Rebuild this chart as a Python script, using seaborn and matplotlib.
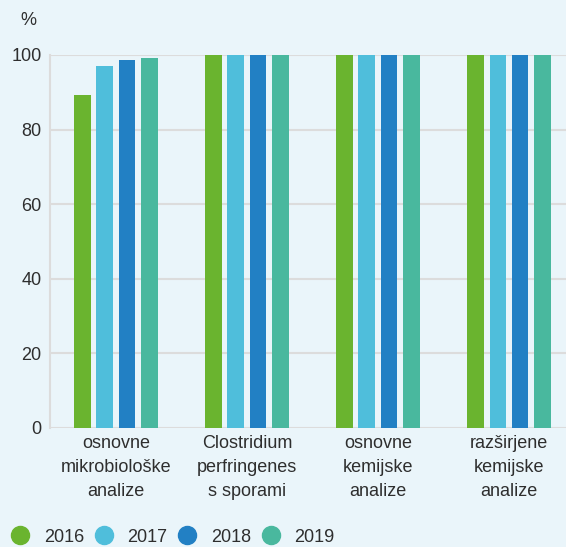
import pandas as pd
import matplotlib.pyplot as plt
import seaborn as sns
from matplotlib.lines import Line2D

categories = ['osnovne\nmikrobiološke\nanalize', 'Clostridium\nperfringenes\ns sporami',
              'osnovne\nkemijske\nanalize', 'razširjene\nkemijske\nanalize']
years = ['2016', '2017', '2018', '2019']
v2016 = [89.2, 100, 100, 100]
v2017 = [97.0, 100, 100, 100]
v2018 = [98.6, 100, 100, 100]
v2019 = [99.2, 100, 100, 100]
colors = ['#6ab42f', '#4fbedb', '#2280c4', '#49b89e']

rows = []
for y, vals in zip(years, [v2016, v2017, v2018, v2019]):
    for c, v in zip(categories, vals):
        rows.append({'cat': c, 'year': y, 'val': v})
df = pd.DataFrame(rows)

sns.set_style('white')
plt.rcParams['font.family'] = ['Liberation Sans', 'DejaVu Sans']
bg = '#eaf5fa'
fig = plt.figure(figsize=(5.66, 5.47), dpi=100, facecolor=bg)
ax = fig.add_axes([0.088, 0.2176, 0.912, 0.682])
ax.set_facecolor(bg)

sns.barplot(data=df, x='cat', y='val', hue='year', palette=colors,
            width=0.68, gap=0.25, ax=ax, legend=False, saturation=1, linewidth=0)

ax.set_ylim(0, 100)
ax.set_xlim(-0.504, 3.435)
ax.set_yticks([0, 20, 40, 60, 80, 100])
ax.yaxis.grid(True, color='#dcdcdc', linewidth=1.5)
ax.set_axisbelow(True)
for s in ['top', 'right', 'bottom']:
    ax.spines[s].set_visible(False)
ax.spines['left'].set_color('#dcdcdc')
ax.spines['left'].set_linewidth(1.5)
ax.tick_params(axis='both', length=0, labelsize=13, colors='#2e2e2e', pad=6)
ax.tick_params(axis='x', pad=5)
for t in ax.get_xticklabels():
    t.set_linespacing(1.55)
ax.set_xlabel('')
ax.set_ylabel('')
fig.text(0.05, 0.962, '%', fontsize=13, color='#2e2e2e', ha='center', va='center')

handles = [Line2D([], [], marker='o', linestyle='', markersize=13, color=c) for c in colors]
fig.legend(handles, years, loc='center left', bbox_to_anchor=(-0.012, 0.018), ncol=4,
           frameon=False, fontsize=13, labelcolor='#2e2e2e', handletextpad=0.7,
           handlelength=1.2, columnspacing=0.5)

fig.savefig('out.png', dpi=100, facecolor=bg)
